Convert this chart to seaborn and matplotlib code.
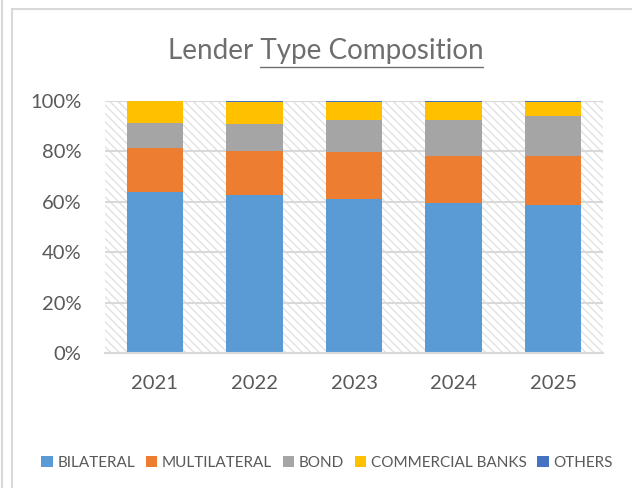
import matplotlib
matplotlib.use("Agg")
import matplotlib.pyplot as plt
from matplotlib.patches import Rectangle, Patch
from matplotlib.lines import Line2D
from matplotlib.ticker import PercentFormatter
import numpy as np
import seaborn as sns

# Share of debt stock by lender type (percent of total)
years = ["2021", "2022", "2023", "2024", "2025"]
bilateral = [63.8, 62.7, 61.3, 59.7, 58.8]
multilateral = [17.5, 17.3, 18.3, 18.3, 19.5]
bond = [9.8, 10.8, 13.0, 14.6, 15.6]
commercial_banks = [8.9, 8.8, 7.0, 7.0, 5.7]
others = [0.0, 0.4, 0.4, 0.4, 0.4]

series_names = ["BILATERAL", "MULTILATERAL", "BOND", "COMMERCIAL BANKS", "OTHERS"]
series_values = [bilateral, multilateral, bond, commercial_banks, others]
series_colors = ["#5B9BD5", "#ED7D31", "#A5A5A5", "#FFC000", "#4472C4"]
y_ticks = [0, 20, 40, 60, 80, 100]

sns.set_style("white")
plt.rcParams["font.family"] = ["Lato", "DejaVu Sans"]
plt.rcParams["hatch.linewidth"] = 1.0

W, H = 632, 488
fig = plt.figure(figsize=(W / 100, H / 100), dpi=100)
fig.patch.set_facecolor("white")

ax = fig.add_axes([105 / W, 1 - 353 / H, (603 - 105) / W, (353 - 101) / H])

# hatched plot-area background
ax.add_patch(Rectangle((0, 0), 1, 1, transform=ax.transAxes, facecolor="white",
                       edgecolor="#e2e2e2", hatch="\\\\\\\\", linewidth=0, zorder=0.1))

bottom = np.zeros(len(years))
for name, vals, color in zip(series_names, series_values, series_colors):
    sns.barplot(x=years, y=vals, order=years, color=color, saturation=1,
                width=0.567, bottom=bottom.copy(), errorbar=None,
                linewidth=0, ax=ax, zorder=3)
    bottom += np.array(vals)

ax.set_xlim(-0.5, len(years) - 0.5)
ax.set_ylim(0, 100)
ax.set_yticks(y_ticks)
ax.yaxis.set_major_formatter(PercentFormatter(100, decimals=0))
ax.grid(axis="y", color="#d9d9d9", linewidth=1.5, zorder=1)
ax.grid(axis="x", visible=False)
ax.set_axisbelow(False)
for gl in ax.get_ygridlines():
    gl.set_zorder(1)
for side in ["left", "right", "top"]:
    ax.spines[side].set_visible(False)
ax.spines["bottom"].set_color("#d9d9d9")
ax.spines["bottom"].set_linewidth(1.5)
ax.spines["bottom"].set_zorder(4)
ax.set_xlabel("")
ax.set_ylabel("")
ax.tick_params(axis="both", length=0, labelsize=14.5, labelcolor="#595959")
ax.tick_params(axis="x", pad=16)
ax.tick_params(axis="y", pad=17)

# legend
handles = [Patch(facecolor=c, edgecolor="none") for c in series_colors]
fig.legend(handles, series_names, loc="center", bbox_to_anchor=(327 / W, 1 - 463 / H),
           ncol=5, frameon=False, fontsize=11, labelcolor="#595959",
           handlelength=0.75, handleheight=0.75, handletextpad=0.3,
           columnspacing=0.7)

# title with the second part underlined
title_full = "Lender Type Composition"
title_tail = "Type Composition"
ty = 1 - 51 / H
title = fig.text(0.515, ty, title_full, ha="center", va="center",
                 fontsize=20, color="#6e6e6e")
fig.canvas.draw()
renderer = fig.canvas.get_renderer()
bb = title.get_window_extent(renderer)
probe = fig.text(0, 0, title_tail, fontsize=20)
tail_w = probe.get_window_extent(renderer).width
probe.remove()
x1 = bb.x1
x0 = x1 - tail_w
uy = H - 67
fig.add_artist(Line2D([x0 / W, x1 / W], [uy / H, uy / H], transform=fig.transFigure,
                      color="#6e6e6e", linewidth=1.0))

# chart frame
frame_c = "#d9d9d9"
fig.add_artist(Line2D([1.5 / W, 1.5 / W], [0, 1], transform=fig.transFigure,
                      color=frame_c, linewidth=1.5))
fig.add_artist(Line2D([12 / W, 12 / W], [0, 1 - 9 / H], transform=fig.transFigure,
                      color=frame_c, linewidth=1.5))
fig.add_artist(Line2D([12 / W, 1], [1 - 9 / H, 1 - 9 / H], transform=fig.transFigure,
                      color=frame_c, linewidth=1.5))

fig.savefig("out.png", dpi=100, facecolor="white")
